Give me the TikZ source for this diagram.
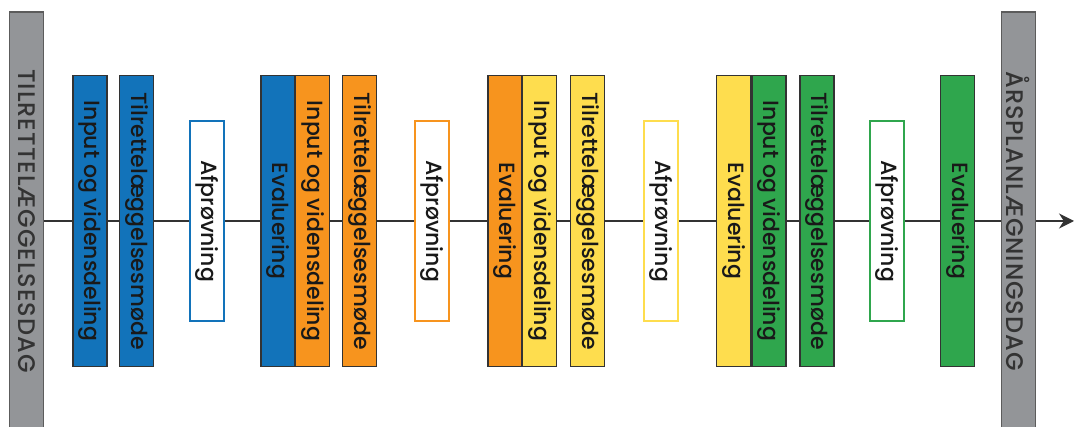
\documentclass[tikz,border=0pt]{standalone}
\usepackage{graphicx}
\usepackage{fontspec}
\setmainfont{Poppins}[UprightFont={* Medium}]
\usetikzlibrary{arrows.meta}

\definecolor{fasebla}{HTML}{1273BA}
\definecolor{faseorange}{HTML}{F7941E}
\definecolor{fasegul}{HTML}{FEDD4E}
\definecolor{fasegron}{HTML}{2FA64D}
\definecolor{dagsgraa}{HTML}{939598}
\definecolor{streg}{HTML}{333333}

\tikzset{
  fase/.style={draw=streg, line width=1.2pt, fill=#1, minimum width=34pt, minimum height=291pt,
    inner sep=0pt, text=black!90, font=\fontsize{22}{22}\selectfont},
  afp/.style={draw=#1, line width=2pt, fill=white, minimum width=34pt, minimum height=200pt,
    inner sep=0pt, text=black!90, font=\fontsize{22}{22}\selectfont},
  dag/.style={draw=streg!80, line width=1.2pt, fill=dagsgraa, minimum width=34pt, minimum height=418pt,
    inner sep=0pt, text=streg, font=\fontsize{24}{24}\selectfont\addfontfeature{LetterSpace=4}},
  tidslinje/.style={draw=streg, line width=2.2pt}
}

\begin{document}
\begin{tikzpicture}[x=1pt, y=-1pt]
        \useasboundingbox (0,0) rectangle (1074,427);
        \clip (0,0) rectangle (1074,427);
        % Draw the two day bars
        \node[dag] (graa1) at (26.5,221) {\rotatebox{-90}{TILRETTELÆGGELSESDAG}};
        \node[dag] (graa2) at (1018.5,221) {\rotatebox{-90}{ÅRSPLANLÆGNINGSDAG}};
        \coordinate (slut) at (1074,221);
        % Draw the four phases
        \foreach \n/\xi/\xt/\xa/\xe/\farve in {1/90/136.5/207/278/fasebla, 2/312.5/359.5/432/505/faseorange,
                                              3/539.5/587.5/661/733.5/fasegul, 4/769/817/887/957.5/fasegron}{
            \node[fase=\farve] (in\n) at (\xi,221) {\rotatebox{-90}{Input og vidensdeling}};
            \node[fase=\farve] (til\n) at (\xt,221) {\rotatebox{-90}{Tilrettelæggelsesmøde}};
            \node[afp=\farve] (af\n) at (\xa,221) {\rotatebox{-90}{Afprøvning}};
            \node[fase=\farve] (ev\n) at (\xe,221) {\rotatebox{-90}{Evaluering}};
            \draw[tidslinje] (in\n) -- (til\n);
            \draw[tidslinje] (til\n) -- (af\n);
            \draw[tidslinje] (af\n) -- (ev\n);
        }
        % Draw the time line
        \draw[tidslinje] (graa1) -- (in1);
        \draw[tidslinje] (ev4) -- (graa2);
        \draw[tidslinje, -{Stealth[length=15pt, width=15pt]}] (graa2) -- (slut);
    \end{tikzpicture}
\end{document}
